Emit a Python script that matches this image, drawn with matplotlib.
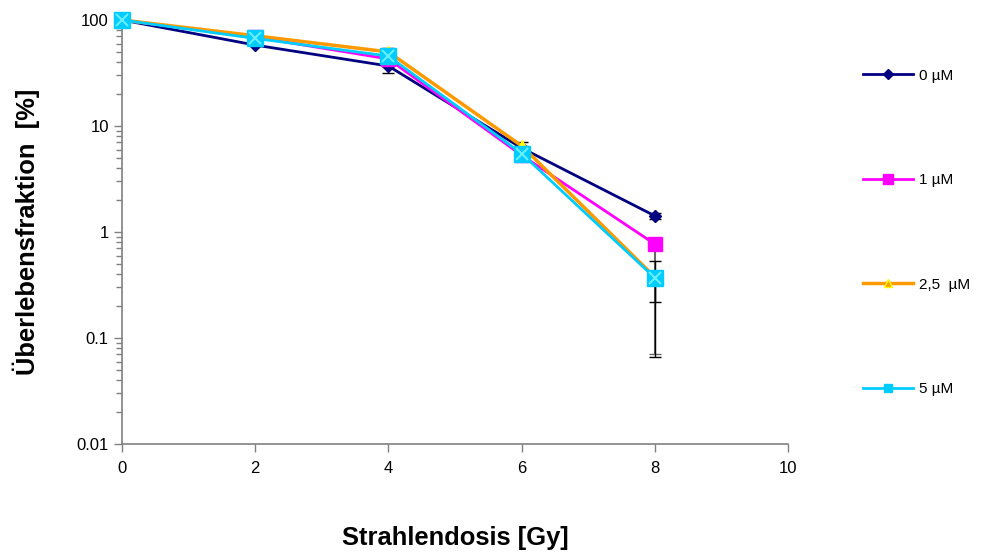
import matplotlib
matplotlib.use("Agg")
import matplotlib.pyplot as plt
from matplotlib.lines import Line2D
import numpy as np

plt.rcParams['font.family'] = ['Liberation Sans', 'DejaVu Sans']

dose = [0, 2, 4, 6, 8]
labels = ["0 µM", "1 µM", "2,5  µM", "5 µM"]
s0 = [100, 58, 36.8, 6.2, 1.42]
s1 = [100, 69, 42.9, 5.3, 0.77]
s25 = [100, 71, 50, 6.5, 0.376]
s5 = [100, 67, 45.7, 5.5, 0.37]
# errors (lower, upper) absolute
e0_lo = [0, 0, 5.3, 0, 0.1]
e0_hi = [0, 0, 0, 0, 0.1]
e1_lo = [0, 0, 0, 0, 0.70]
e1_hi = [0, 0, 0, 0, 0]
e25_lo = [0, 0, 0, 0, 0.31]
e25_hi = [0, 3, 4, 0.5, 0]
e5_lo = [0, 0, 0, 0, 0.15]
e5_hi = [0, 0, 0, 0, 0.16]

fig = plt.figure(figsize=(9.81, 5.54), dpi=100)
ax = fig.add_axes([122/981, 1-444/554, (788-122)/981, (444-20)/554])

ax.errorbar(dose, s0, yerr=[e0_lo, e0_hi], fmt='none', ecolor='black', elinewidth=1, capsize=4, zorder=1)
ax.errorbar(dose, s1, yerr=[e1_lo, e1_hi], fmt='none', ecolor='#666666', elinewidth=1.5, capsize=4, zorder=1)
ax.errorbar(dose, s25, yerr=[e25_lo, e25_hi], fmt='none', ecolor='black', elinewidth=1, capsize=4, zorder=1)
ax.errorbar(dose, s5, yerr=[e5_lo, e5_hi], fmt='none', ecolor='black', elinewidth=1, capsize=4, zorder=1)

kw = dict(clip_on=False)
ax.plot(dose, s0, color='#000080', lw=2, marker='D', ms=6, mfc='#000080', mec='#000080', zorder=3, **kw)
ax.plot(dose, s1, color='#FF00FF', lw=2, marker='s', ms=10, mfc='#FF00FF', mec='#FF00FF', zorder=4, **kw)
ax.plot(dose, s25, color='#FF9900', lw=2.5, marker='^', ms=8, mfc='#FFFF00', mec='#FFFF00', zorder=5, **kw)
ax.plot(dose, s5, color='#00CCFF', lw=2, marker='s', ms=11, mfc='#00CCFF', mec='#00CCFF', zorder=6, **kw)
ax.plot(dose, s5, ls='none', marker='x', ms=9, mew=1.5, color='#66EEFF', zorder=7, **kw)

ax.set_yscale('log')
ax.set_ylim(0.01, 100)
ax.set_xlim(0, 10)
ax.set_xticks([0, 2, 4, 6, 8, 10])
ax.set_yticks([0.01, 0.1, 1, 10, 100])
ax.set_yticklabels(["0.01", "0.1", "1", "10", "100"])
ax.tick_params(axis='both', which='major', direction='out', length=6, color='#808080', labelsize=12, width=1)
ax.tick_params(axis='y', which='minor', direction='out', length=4, color='#808080', width=1)
ax.tick_params(axis='x', which='major', pad=6)
for sp in ['top', 'right']:
    ax.spines[sp].set_visible(False)
for sp in ['left', 'bottom']:
    ax.spines[sp].set_color('#808080')
    ax.spines[sp].set_linewidth(1.2)

ax.set_xlabel("Strahlendosis [Gy]", fontsize=18.4, fontweight='bold', labelpad=36)
ax.set_ylabel("Überlebensfraktion  [%]", fontsize=18.4, fontweight='bold', labelpad=26)

handles = [
    Line2D([], [], color='#000080', lw=2, marker='D', ms=5, mfc='#000080', mec='#000080'),
    Line2D([], [], color='#FF00FF', lw=2, marker='s', ms=7, mfc='#FF00FF', mec='#FF00FF'),
    Line2D([], [], color='#FF9900', lw=2.5, marker='^', ms=6, mfc='#FF9900', mec='#FFFF00'),
    Line2D([], [], color='#00CCFF', lw=2, marker='s', ms=6, mfc='#00CCFF', mec='#00CCFF'),
]
fig.legend(handles, labels, loc='upper left', bbox_to_anchor=(855/981, 1-61/554), frameon=False,
           fontsize=11, handlelength=3.3, handletextpad=0.4, labelspacing=5.92, borderpad=0)

fig.savefig("out.png", dpi=100)
